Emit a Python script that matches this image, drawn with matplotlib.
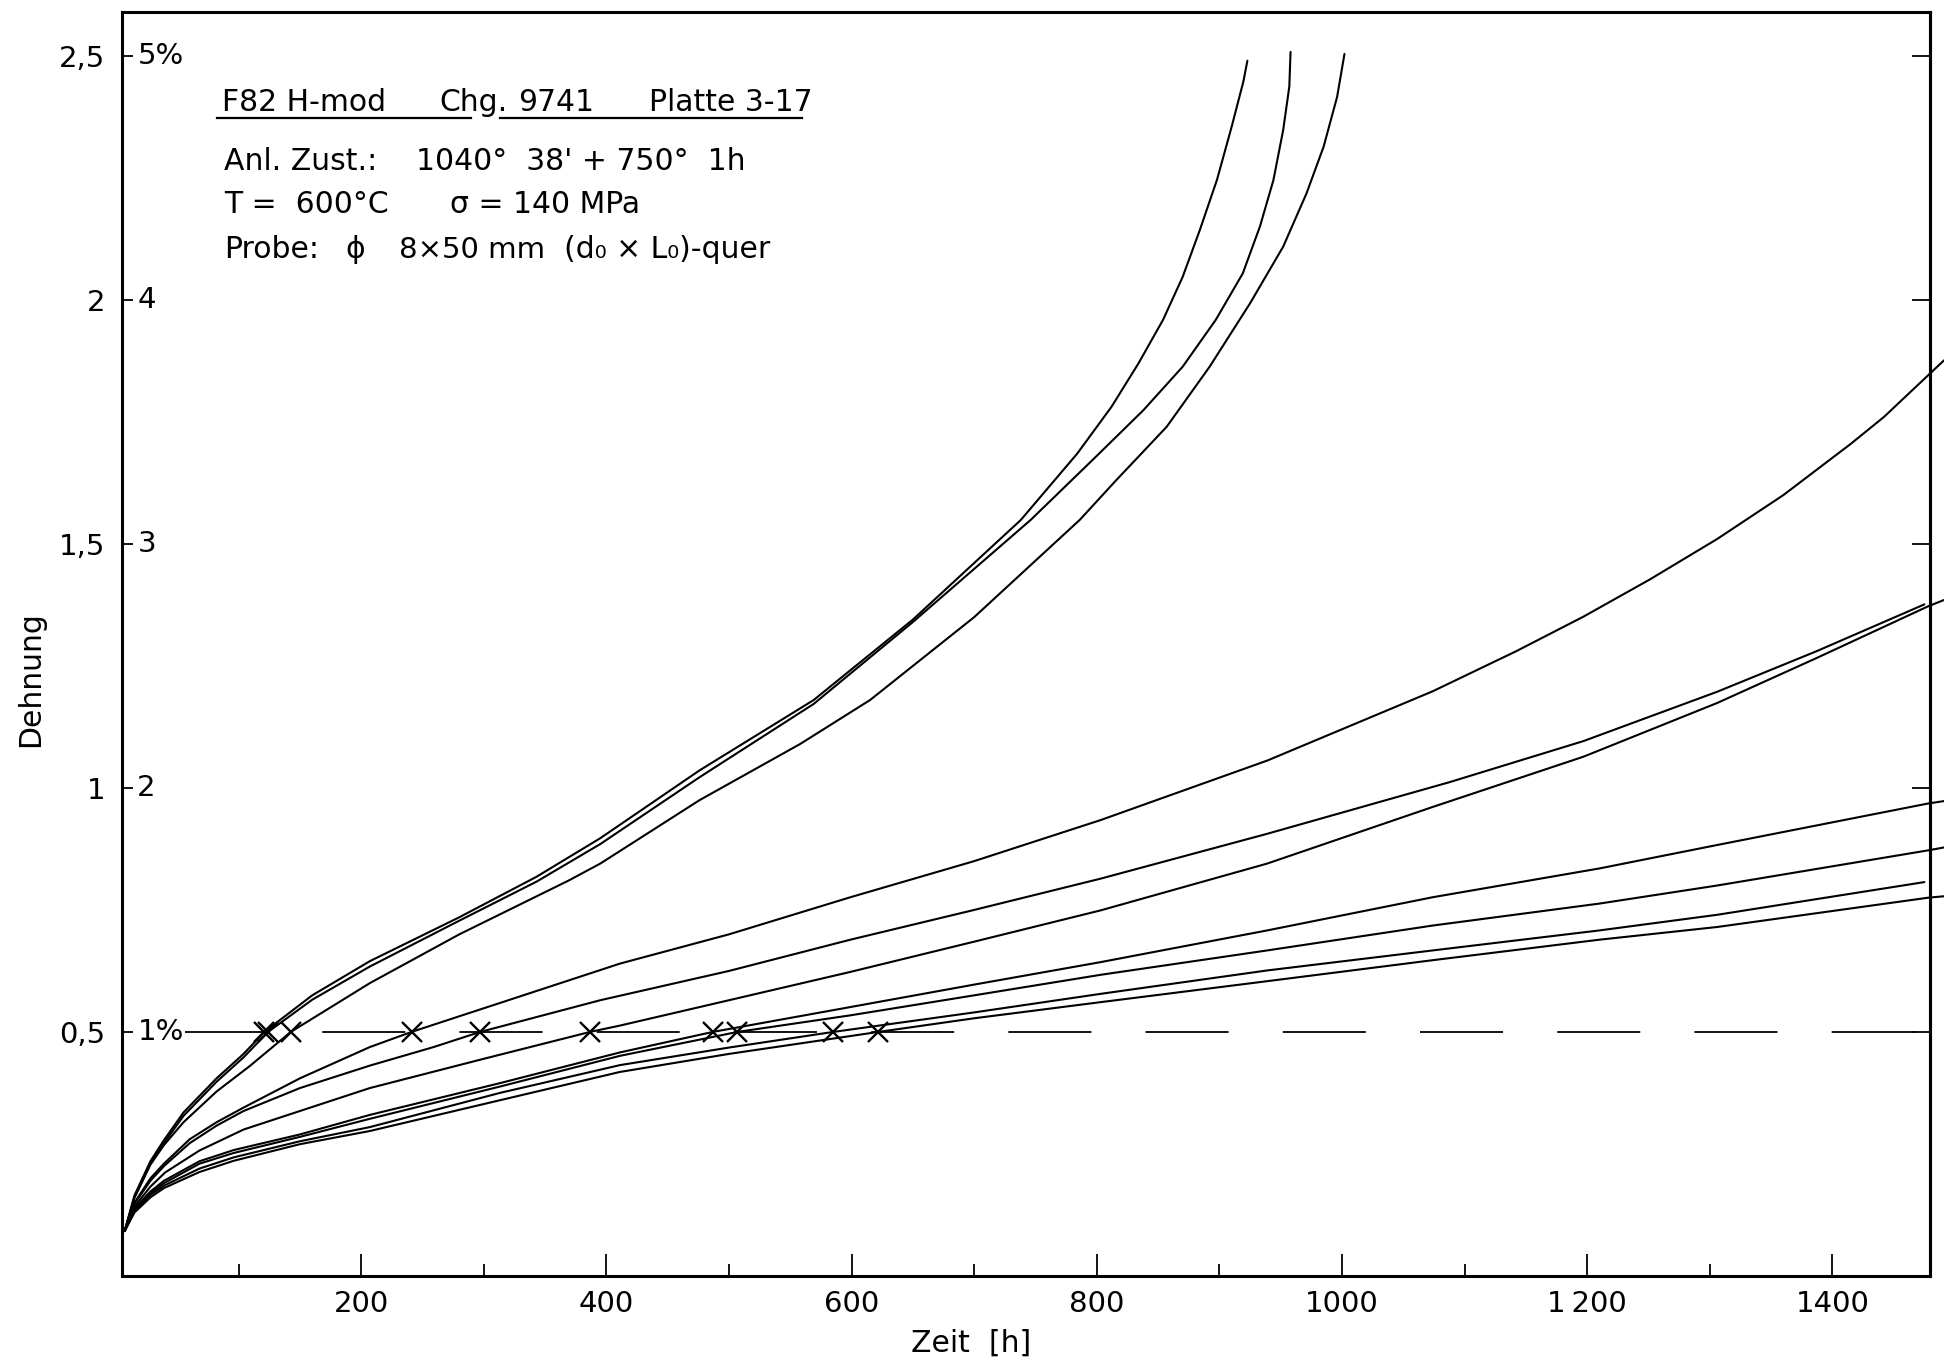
import matplotlib
matplotlib.use("Agg")
import matplotlib.pyplot as plt
from matplotlib.ticker import FixedLocator

# Schriften: Text in DejaVu Sans, Ziffern schmaler
plt.rcParams['font.family'] = ['DejaVu Sans']
ZIFFERN = ['Liberation Sans Narrow', 'DejaVu Sans']

# Kriechkurven F82H-mod, 600 °C / 140 MPa  (Zeit in h, Dehnung linke Skala)
zeit_a = [7, 15, 28, 39, 55, 82, 104, 121, 160, 207, 280, 343, 395, 476, 569, 650, 738, 784, 812, 834, 854, 870, 884, 898, 910, 919.5, 922.8]
dehn_a = [0.092, 0.165, 0.235, 0.278, 0.335, 0.405, 0.455, 0.50, 0.575, 0.645, 0.735, 0.818, 0.897, 1.036, 1.18, 1.345, 1.549, 1.685, 1.781, 1.87, 1.959, 2.047, 2.143, 2.246, 2.355, 2.447, 2.49]

zeit_b = [7, 15, 28, 39, 55, 82, 104, 124, 160, 207, 280, 343, 395, 476, 569, 650, 746, 799, 838, 870, 897, 919, 933, 944, 952, 957, 958]
dehn_b = [0.092, 0.162, 0.23, 0.272, 0.328, 0.398, 0.448, 0.50, 0.566, 0.634, 0.728, 0.808, 0.885, 1.022, 1.172, 1.34, 1.549, 1.678, 1.774, 1.863, 1.959, 2.054, 2.15, 2.245, 2.348, 2.437, 2.508]

zeit_c = [7, 15, 28, 39, 55, 82, 109, 142.5, 207, 280, 369, 395, 476, 558, 615, 700, 786, 816, 857, 892, 925, 952, 971, 985, 996, 1002]
dehn_c = [0.092, 0.16, 0.228, 0.268, 0.315, 0.378, 0.43, 0.50, 0.60, 0.70, 0.81, 0.845, 0.975, 1.09, 1.18, 1.35, 1.549, 1.631, 1.74, 1.863, 1.993, 2.109, 2.218, 2.314, 2.416, 2.504]

zeit_d = [7, 15, 28, 39, 60, 82, 104, 150, 207, 241, 320, 411, 500, 599, 700, 803, 939, 1074, 1142, 1197, 1251, 1306, 1360, 1415, 1442, 1480, 1491]
dehn_d = [0.092, 0.15, 0.20, 0.23, 0.28, 0.315, 0.345, 0.405, 0.469, 0.50, 0.565, 0.64, 0.70, 0.776, 0.85, 0.934, 1.056, 1.198, 1.28, 1.351, 1.427, 1.51, 1.60, 1.705, 1.76, 1.85, 1.876]

zeit_e = [7, 15, 28, 39, 60, 82, 104, 150, 207, 259, 297, 395, 500, 599, 700, 803, 939, 1088, 1197, 1306, 1387, 1475]
dehn_e = [0.092, 0.148, 0.195, 0.225, 0.272, 0.308, 0.338, 0.385, 0.431, 0.469, 0.50, 0.565, 0.625, 0.689, 0.75, 0.814, 0.906, 1.012, 1.096, 1.197, 1.28, 1.376]

zeit_f = [7, 15, 28, 40, 68, 104, 150, 207, 300, 386.6, 411, 500, 599, 700, 803, 939, 1074, 1197, 1306, 1387, 1478, 1491]
dehn_f = [0.092, 0.142, 0.183, 0.212, 0.257, 0.30, 0.338, 0.385, 0.445, 0.50, 0.513, 0.565, 0.623, 0.685, 0.749, 0.845, 0.961, 1.064, 1.174, 1.266, 1.372, 1.385]

zeit_g = [7, 15, 28, 39, 68, 96, 150, 207, 313, 411, 486.7, 599, 700, 803, 939, 1074, 1210, 1306, 1478, 1491]
dehn_g = [0.092, 0.138, 0.173, 0.195, 0.235, 0.258, 0.29, 0.33, 0.395, 0.458, 0.50, 0.551, 0.597, 0.643, 0.708, 0.776, 0.835, 0.883, 0.968, 0.973]

zeit_h = [7, 15, 28, 39, 68, 96, 150, 207, 313, 411, 506.8, 599, 700, 803, 939, 1074, 1210, 1306, 1478, 1491]
dehn_h = [0.092, 0.136, 0.17, 0.19, 0.23, 0.252, 0.285, 0.322, 0.388, 0.451, 0.50, 0.534, 0.575, 0.617, 0.667, 0.718, 0.763, 0.80, 0.872, 0.878]

zeit_i = [7, 15, 28, 39, 68, 96, 150, 207, 313, 411, 500, 585, 700, 803, 939, 1074, 1210, 1306, 1475]
dehn_i = [0.092, 0.133, 0.166, 0.185, 0.22, 0.243, 0.276, 0.305, 0.375, 0.432, 0.468, 0.50, 0.54, 0.578, 0.626, 0.667, 0.708, 0.74, 0.807]

zeit_j = [7, 15, 28, 39, 68, 96, 150, 207, 313, 411, 500, 621.8, 700, 803, 939, 1074, 1210, 1306, 1478, 1491]
dehn_j = [0.092, 0.13, 0.161, 0.18, 0.213, 0.236, 0.27, 0.297, 0.36, 0.418, 0.455, 0.50, 0.528, 0.561, 0.604, 0.647, 0.689, 0.715, 0.775, 0.778]

# Zeiten bis 1 % Dehnung (Kreuze auf der 0,5-Linie)
zeit_1proz = [120.7, 124, 142.5, 241, 297, 386.6, 486.7, 506.8, 585, 621.8]
grenze_1proz = 0.5

# Achsen
y_ticks = [0.5, 1, 1.5, 2, 2.5]
y_labels_links = ["0,5", "1", "1,5", "2", "2,5"]
y_labels_rechts = ["1%", "2", "3", "4", "5%"]
x_ticks = [200, 400, 600, 800, 1000, 1200, 1400]
x_labels = ["200", "400", "600", "800", "1000", "1\u2009200", "1400"]
x_minor = [100, 300, 500, 700, 900, 1100, 1300]

zeiten = [zeit_a, zeit_b, zeit_c, zeit_d, zeit_e, zeit_f, zeit_g, zeit_h, zeit_i, zeit_j]
dehnungen = [dehn_a, dehn_b, dehn_c, dehn_d, dehn_e, dehn_f, dehn_g, dehn_h, dehn_i, dehn_j]

fig = plt.figure(figsize=(19.44, 13.67), dpi=100)
ax = fig.add_axes([0.0628, 0.0666, 0.9300, 0.9247])
ax.set_xlim(4.9, 1479.6)
ax.set_ylim(0, 2.59)

for t, d in zip(zeiten, dehnungen):
    ax.plot(t, d, color='black', lw=1.5, clip_on=False,
            solid_joinstyle='round', solid_capstyle='round')

# gestrichelte 1%-Linie mit den Kreuzen
ax.plot([56, 1479.6], [grenze_1proz, grenze_1proz], color='black', lw=1.3, dashes=(46, 30))
ax.plot(zeit_1proz, [grenze_1proz] * len(zeit_1proz), 'x', color='black', ms=14, mew=1.7)

for s in ax.spines.values():
    s.set_linewidth(2.2)

ax.xaxis.set_major_locator(FixedLocator(x_ticks))
ax.xaxis.set_minor_locator(FixedLocator(x_minor))
ax.set_xticklabels(x_labels, fontsize=21, family=ZIFFERN)
ax.tick_params(axis='x', which='major', direction='in', length=16, width=1.3, pad=10)
ax.tick_params(axis='x', which='minor', direction='in', length=9, width=1.3)

ax.set_yticks(y_ticks)
ax.set_yticklabels(y_labels_links, fontsize=21, family=ZIFFERN)
ax.tick_params(axis='y', direction='in', length=8, width=1.3, pad=12)

# rechte Achse nur mit Strichen
ax_r = ax.secondary_yaxis('right')
ax_r.set_yticks(y_ticks)
ax_r.tick_params(direction='in', length=13, width=1.3, labelright=False)
ax_r.spines['right'].set_linewidth(2.2)

# Dehnung in % innen an der linken Achse
for v, lbl in zip(y_ticks, y_labels_rechts):
    ax.annotate(lbl, xy=(0, v), xycoords=('axes fraction', 'data'), xytext=(11, 0),
                textcoords='offset points', va='center', ha='left', fontsize=21, family=ZIFFERN)

# Probenbeschreibung
fs = 21.5
ax.text(86.7, 2.386, "F82 H-mod", fontsize=fs, va='baseline')
ax.text(263.6, 2.386, "Chg.", fontsize=fs, va='baseline')
ax.text(327.7, 2.386, "9741", fontsize=fs, va='baseline')
ax.text(434.3, 2.386, "Platte 3-17", fontsize=fs, va='baseline')
ax.plot([82.4, 289.3], [2.372, 2.372], color='black', lw=1.6)
ax.plot([312.8, 559.3], [2.372, 2.372], color='black', lw=1.6)

ax.text(87.9, 2.266, "Anl. Zust.:", fontsize=fs, va='baseline')
ax.text(244.5, 2.266, "1040°  38' + 750°  1h", fontsize=fs, va='baseline')
ax.text(87.9, 2.177, "T =  600°C", fontsize=fs, va='baseline')
ax.text(272.2, 2.177, "σ = 140 MPa", fontsize=fs, va='baseline')
ax.text(87.9, 2.085, "Probe:", fontsize=fs, va='baseline')
ax.text(186.9, 2.085, "ϕ", fontsize=fs, va='baseline')
ax.text(231.0, 2.085, "8×50 mm", fontsize=fs - 0.5, va='baseline')
ax.text(365.0, 2.085, "(d₀ × L₀)-quer", fontsize=fs, va='baseline')

fig.text(31 / 1944, 1 - 679 / 1367, "Dehnung", rotation=90, ha='center', va='center', fontsize=21.5)
fig.text(971 / 1944, 1 - 1343 / 1367, "Zeit  [h]", ha='center', va='center', fontsize=21.5)

fig.savefig("out.png", dpi=100)
